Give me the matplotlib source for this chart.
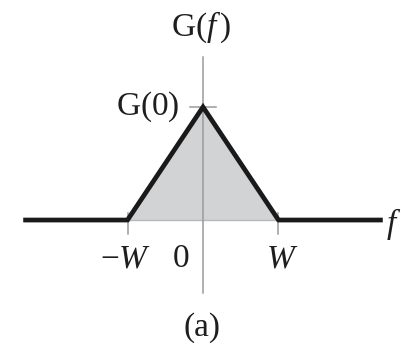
import matplotlib.pyplot as plt

plt.rcParams["mathtext.fontset"] = "custom"
plt.rcParams["mathtext.rm"] = "Liberation Serif"
plt.rcParams["mathtext.it"] = "Liberation Serif:italic"
plt.rcParams["font.family"] = "Liberation Serif"

# triangular spectrum, bandwidth W, peak G(0)
W = 1.0
G0 = 1.0
f_pts = [-2.35, -W, 0.0, W, 2.35]
g_pts = [0.0, 0.0, G0, 0.0, 0.0]
tri_f = [-W, 0.0, W]
tri_g = [0.0, G0, 0.0]

fig = plt.figure(figsize=(4.02, 3.51), dpi=100)
ax = fig.add_axes([0, 0, 1, 1])
ax.set_xlim(-2.689, 2.636)
ax.set_ylim(-1.159, 1.947)
ax.axis("off")

grey = "#9a9a9a"
ax.fill(tri_f, tri_g, color="#d2d3d5", lw=0)
ax.plot([-W, W], [0, 0], color="#b8b8b8", lw=1.0)
ax.plot([0, 0], [-0.646, 1.44], color=grey, lw=1.1)
ax.plot([-0.17, 0.17], [G0, G0], color=grey, lw=1.1)
for x in (-W, W):
    ax.plot([x, x], [-0.12, 0.06], color=grey, lw=1.1)
ax.plot(f_pts, g_pts, color="#1a1a1a", lw=3.4, solid_joinstyle="miter")

txt = dict(fontsize=24, color="#1e1e1e", va="center")
ax.text(-0.03, 1.71, r"$\mathrm{G}(f\,)$", ha="center", **txt)
ax.text(-0.305, G0, r"$\mathrm{G}(0)$", ha="right", **txt)
ax.text(-1.02, -0.345, r"$-W$", ha="center", **txt)
ax.text(-0.29, -0.345, r"$\mathrm{0}$", ha="center", **txt)
ax.text(1.05, -0.345, r"$W$", ha="center", **txt)
ax.text(2.53, -0.035, r"$f$", ha="center", **txt)
ax.text(-0.013, -0.956, "(a)", ha="center", **txt)

fig.savefig("out.png", dpi=100)
